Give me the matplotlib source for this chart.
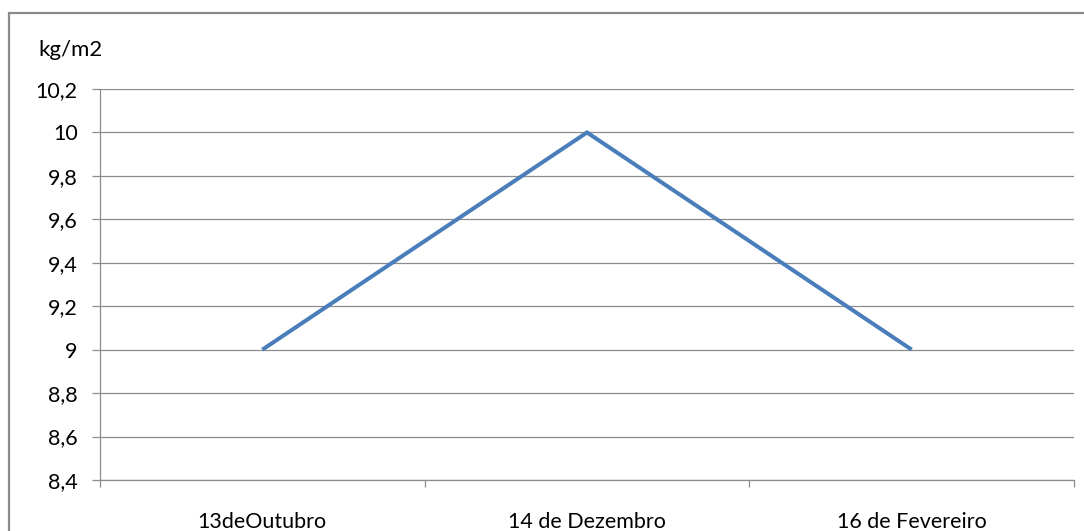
"""Line chart of kg/m2 measured on three sampling dates."""

import matplotlib

matplotlib.use("Agg")
import matplotlib.pyplot as plt  # noqa: E402
from matplotlib.patches import Rectangle  # noqa: E402
from matplotlib.ticker import FuncFormatter, MultipleLocator  # noqa: E402

dates = ["13deOutubro", "14 de Dezembro", "16 de Fevereiro"]
kg_per_m2 = [9.0, 10.0, 9.0]

W, H, DPI = 1084, 531, 100
FS = 15.5
plt.rcParams["font.family"] = ["Lato", "DejaVu Sans"]

fig = plt.figure(figsize=(W / DPI, H / DPI), dpi=DPI)
ax = fig.add_axes([100 / W, 1 - 480 / H, 974 / W, 391 / H])

x = list(range(len(dates)))
ax.plot(x, kg_per_m2, color="#4A7EBB", linewidth=2.9,
        solid_capstyle="butt", solid_joinstyle="miter")

ax.set_xlim(-0.5, len(dates) - 0.5)
ax.set_ylim(8.4, 10.2)
ax.yaxis.set_major_locator(MultipleLocator(0.2))
ax.yaxis.set_major_formatter(
    FuncFormatter(lambda v, _: f"{v:.1f}".rstrip("0").rstrip(",.").replace(".", ","))
)
ax.yaxis.grid(True, color="#8c8c8c", linewidth=0.9)
ax.set_axisbelow(True)

# category labels in the middle, tick marks on the boundaries
ax.set_xticks(x)
ax.set_xticklabels(dates)
ax.set_xticks([i - 0.5 for i in range(len(dates) + 1)], minor=True)
ax.tick_params(axis="x", which="major", length=0, pad=23, labelsize=FS)
ax.tick_params(axis="x", which="minor", length=5, color="#8c8c8c", width=0.9)
ax.tick_params(axis="y", length=6, color="#8c8c8c", width=0.9, pad=10, labelsize=FS)

for side in ("top", "right"):
    ax.spines[side].set_visible(False)
for side in ("left", "bottom"):
    ax.spines[side].set_color("#8c8c8c")
    ax.spines[side].set_linewidth(0.9)

fig.text(38 / W, 1 - 50 / H, "kg/m2", fontsize=FS + 0.5, va="center", ha="left")

# chart frame
fig.patches.append(
    Rectangle((8.5 / W, -0.05), 1.1, 1 - 12.5 / H + 0.05,
              transform=fig.transFigure, fill=False,
              edgecolor="#8a8a8a", linewidth=1.6)
)

fig.savefig("out.png", dpi=DPI, facecolor="white")
